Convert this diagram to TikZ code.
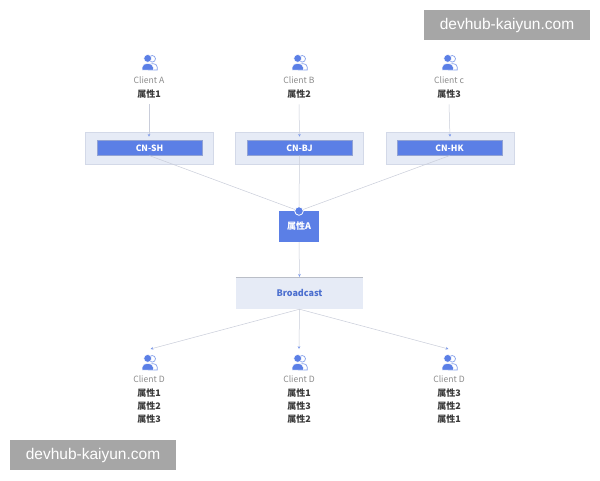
\documentclass[tikz,border=0pt]{standalone}
\usepackage{fontspec}
\setmainfont{Noto Sans CJK SC}
\newfontfamily\wmfont{Liberation Sans}
\usetikzlibrary{arrows.meta}
\definecolor{ublue}{HTML}{5B7FE6}
\definecolor{lightbox}{HTML}{E6EBF6}
\definecolor{boxedge}{HTML}{D3D9E8}
\definecolor{linegray}{HTML}{C9CDDA}
\definecolor{txtgray}{HTML}{8C8C8C}
\definecolor{txtdark}{HTML}{3A3A3A}
\definecolor{wmgray}{HTML}{A6A6A6}
\definecolor{bctext}{HTML}{4C6FCF}
\tikzset{
  clienttxt/.style={font=\fontsize{8.6}{9}\selectfont, text=txtgray, inner sep=0pt},
  attrtxt/.style={font=\fontsize{9}{13}\selectfont\bfseries, text=txtdark, inner sep=0pt, align=center},
  outerbox/.style={fill=lightbox, draw=boxedge, line width=0.5pt, minimum width=128pt, minimum height=32pt, inner sep=0pt},
  bluebar/.style={fill=ublue, draw=ublue!80!black!60, line width=0.3pt, minimum width=105pt, minimum height=15pt, inner sep=0pt, text=white, font=\fontsize{8.6}{9}\selectfont\bfseries},
  conn/.style={draw=linegray, line width=0.5pt},
  arr/.style={conn, -{Stealth[length=2.8pt,width=2.6pt,color=ublue!80]}},
  wm/.style={fill=wmgray, text=white, font=\wmfont\fontsize{15.5}{16}\selectfont, minimum width=166pt, minimum height=30pt, inner sep=0pt},
  usericon/.pic={
    \draw[ublue!75, fill=white, line width=0.7pt] (3.2,-3.2) circle (3.3);
    \draw[ublue!75, fill=white, line width=0.7pt] (-0.5,8) -- (-0.5,5) .. controls (-0.5,0.5) and (8.2,0.5) .. (8.2,5) -- (8.2,8) -- cycle;
    \fill[ublue, draw=white, line width=0.5pt] (-7,8) -- (-7,5.5) .. controls (-7,0) and (4.4,0) .. (4.4,5.5) -- (4.4,8) -- cycle;
    \fill[ublue, draw=white, line width=0.5pt] (-1.3,-3.6) circle (3.9);
  }
}
\begin{document}
\begin{tikzpicture}[x=1pt,y=-1pt]
\useasboundingbox[fill=white] (0,0) rectangle (600,480);

% watermarks
\node[wm] (wm1) at (507,25) {devhub-kaiyun.com};
\node[wm] (wm2) at (93,455) {devhub-kaiyun.com};

% top clients
\foreach \x/\n/\lab/\att in {149/A/Client A/属性1, 299/B/Client B/属性2, 449/C/Client c/属性3}{
  \pic at (\x,62) {usericon};
  \node[clienttxt] (c\n) at (\x,80) {\lab};
  \node[attrtxt] (t\n) at (\x,94) {\att};
}

% region boxes
\node[outerbox] (oSH) at (149,148) {};
\node[outerbox] (oBJ) at (299.5,148) {};
\node[outerbox] (oHK) at (450,148) {};
\node[bluebar] (SH) at (149.5,148) {CN-SH};
\node[bluebar] (BJ) at (299.5,148) {CN-BJ};
\node[bluebar] (HK) at (449.5,148) {CN-HK};

\draw[arr] ([yshift=-6pt]tA.south) -- ([yshift=-5pt]oSH.north);
\draw[arr] ([yshift=-6pt]tB.south) -- ([yshift=-5pt]oBJ.north);
\draw[arr] ([yshift=-6pt]tC.south) -- ([yshift=-5pt]oHK.north);

% attribute A
\node[fill=ublue, minimum width=40pt, minimum height=31pt, inner sep=0pt, text=white, font=\fontsize{9}{9}\selectfont\bfseries] (pA) at (299,226.5) {属性A};
\coordinate (hub) at (299,211);
\draw[conn] (SH.south) -- (hub);
\draw[conn] (BJ.south) -- (hub);
\draw[conn] (HK.south) -- (hub);
\fill[ublue, draw=white, line width=0.8pt] (hub) circle (4.3);

% broadcast
\node[fill=lightbox, minimum width=127pt, minimum height=32pt, inner sep=0pt, text=bctext, font=\fontsize{9}{9}\selectfont\bfseries] (bc) at (299.5,293) {Broadcast};
\draw[boxedge!80!black!80, line width=0.6pt] (bc.north west) -- (bc.north east);
\draw[arr] (pA.south) -- (bc.north);

% bottom clients
\foreach \x/\n/\att in {149/1/属性1\\属性2\\属性3, 299/2/属性1\\属性3\\属性2, 449/3/属性3\\属性2\\属性1}{
  \pic at (\x,362) {usericon};
  \node[clienttxt] (d\n) at (\x,379) {Client D};
  \node[attrtxt, anchor=north] (e\n) at (\x,388.5) {\att};
  \coordinate (tip\n) at (\x,349);
}
\draw[arr] (bc.south) -- ([xshift=1.5pt]tip1);
\draw[arr] (bc.south) -- (tip2);
\draw[arr] (bc.south) -- ([xshift=-0.5pt]tip3);
\end{tikzpicture}
\end{document}
